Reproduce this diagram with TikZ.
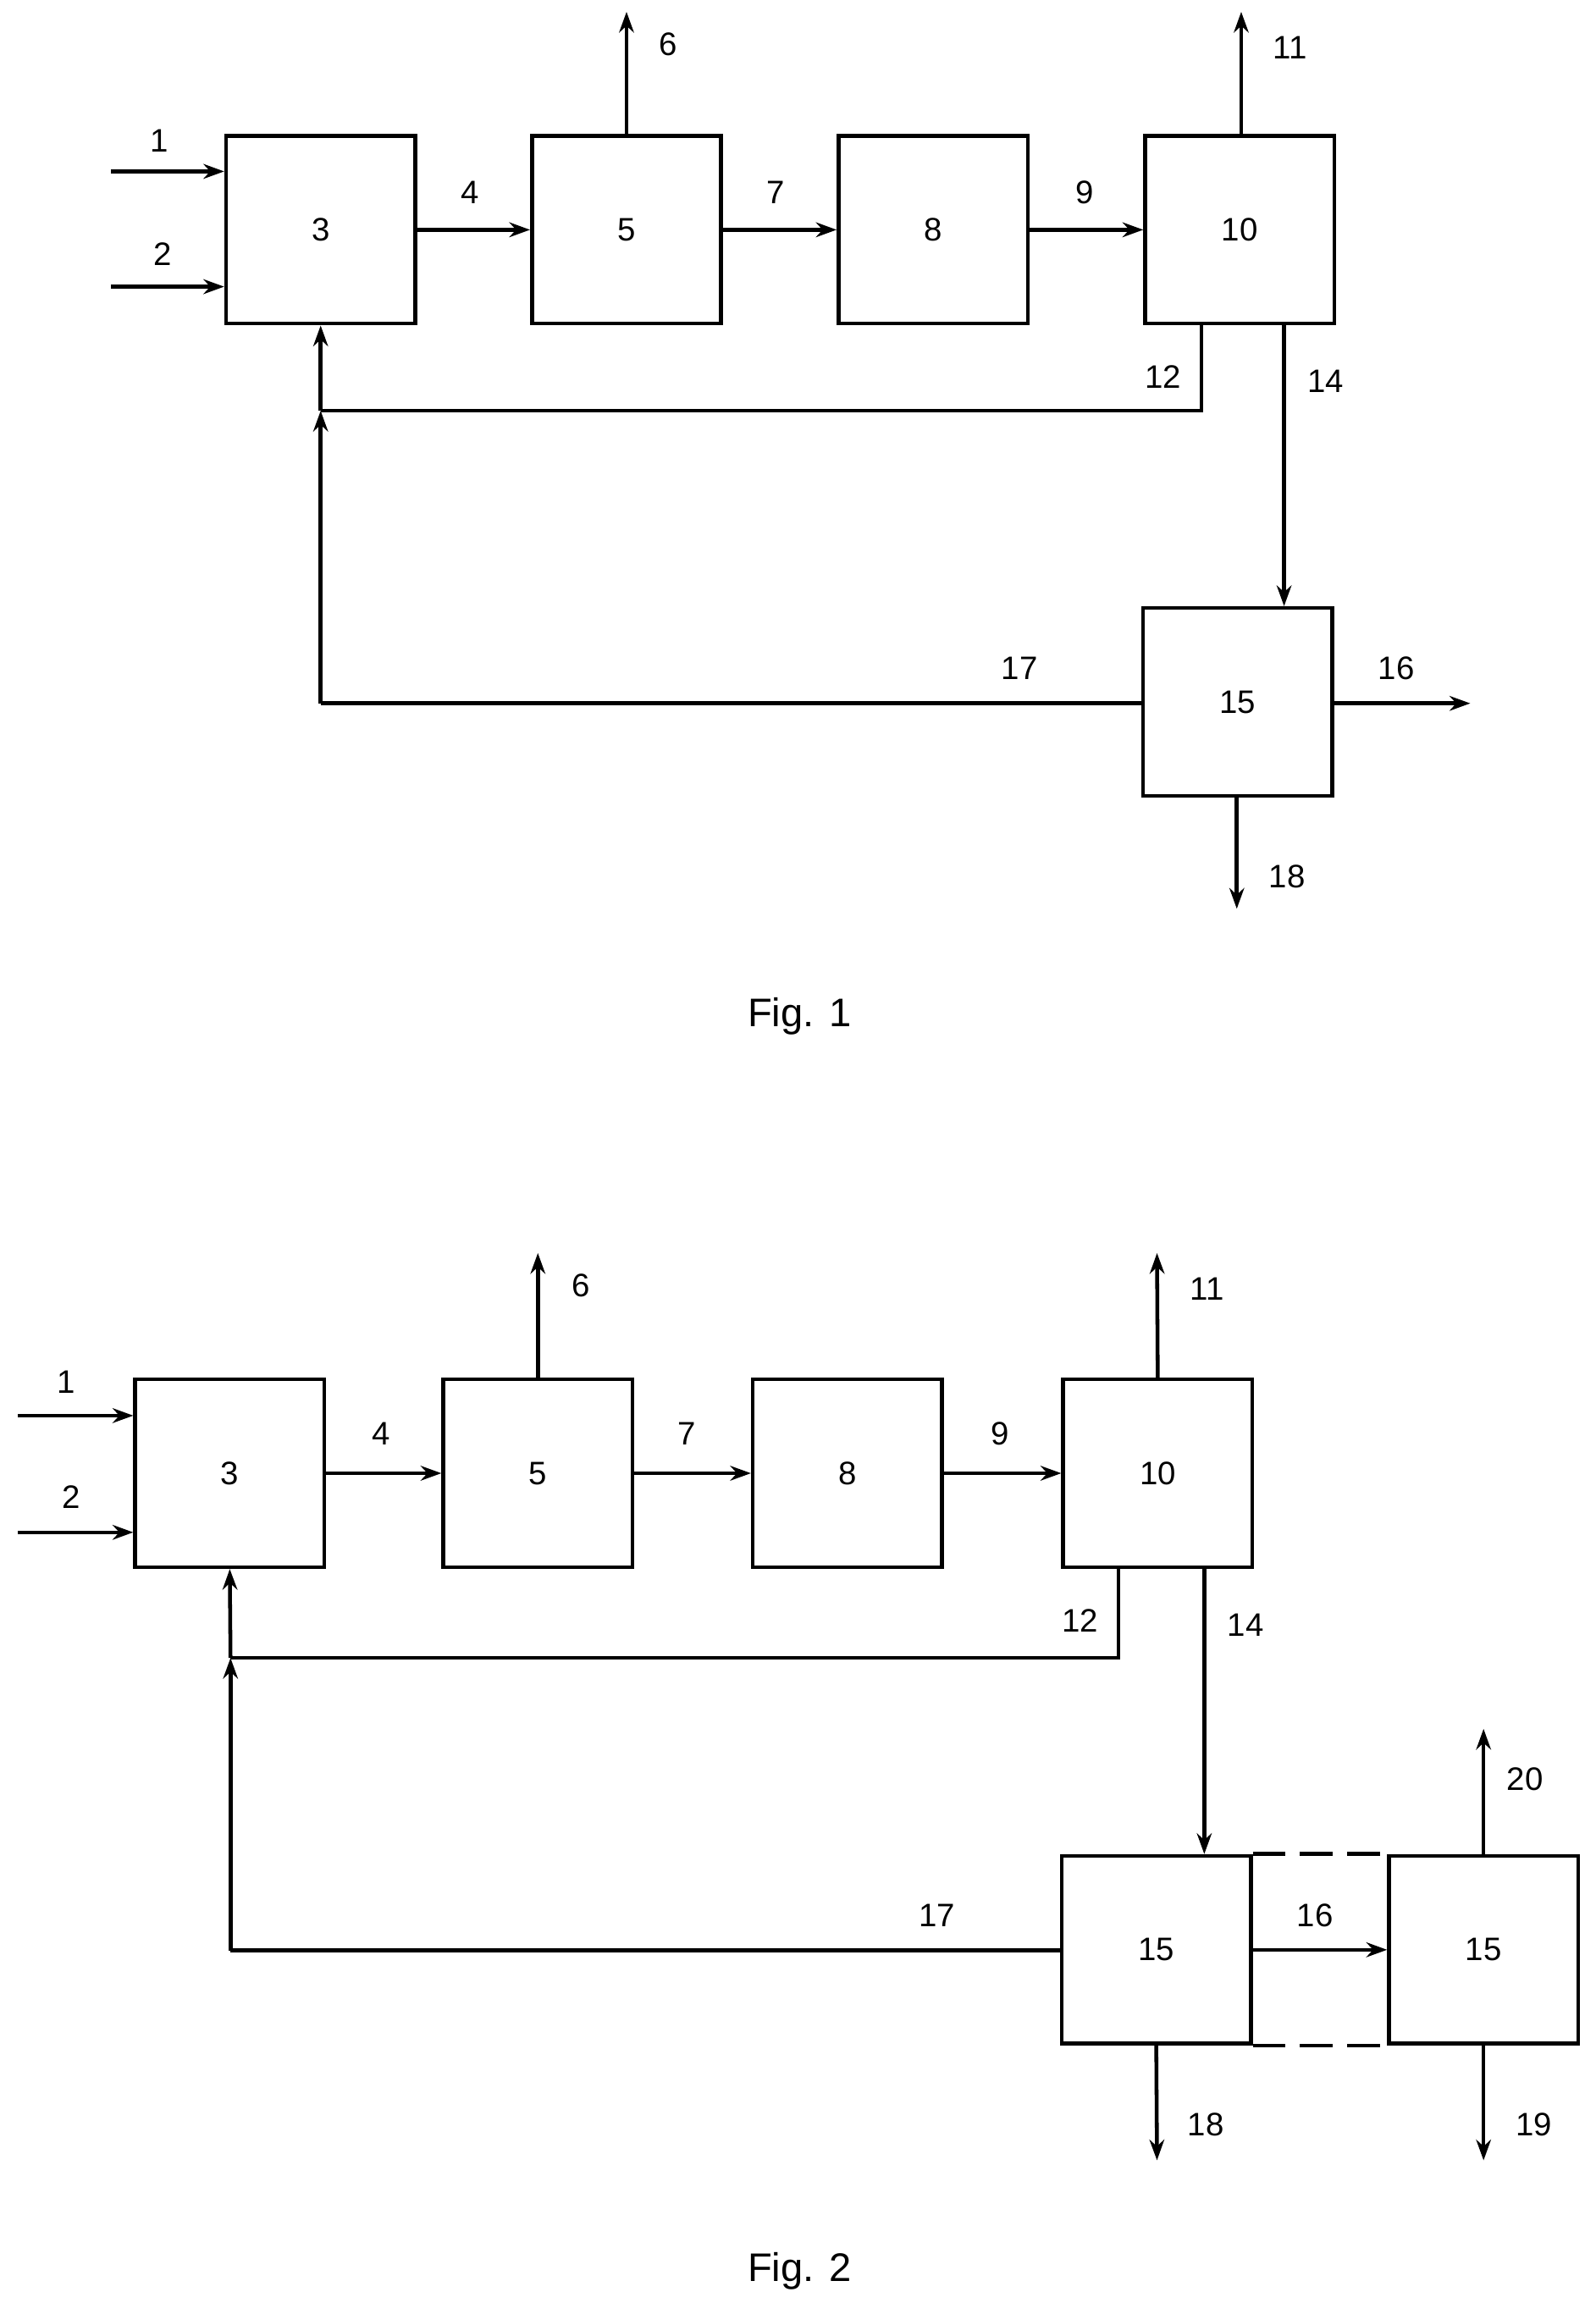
\documentclass[tikz,border=0pt]{standalone}
\usepackage{fontspec}
\setmainfont{Liberation Sans}
\usetikzlibrary{arrows.meta}
\begin{document}
\begin{tikzpicture}[x=1pt,y=-1pt,
  box/.style={draw,line width=2.6pt,minimum width=128pt,minimum height=127pt,inner sep=0pt,font=\fontsize{22}{24}\selectfont},
  ln/.style={line width=2.6pt},
  ar/.style={ln,-{Stealth[length=14pt,width=10pt]}},
  lab/.style={font=\fontsize{22}{24}\selectfont}]
\useasboundingbox (0,0) rectangle (1080,1566);
% Fig 1
\node[box] (a3) at (217,155.5) {3};
\node[box] (a5) at (424,155.5) {5};
\node[box] (a8) at (631.5,155.5) {8};
\node[box] (a10) at (839,155.5) {10};
\node[box] (a15) at (837.5,475) {15};
\coordinate (a1s) at (75,116); \coordinate (a2s) at (75,194);
\draw[ar] (a1s) -- (a1s -| a3.west);
\draw[ar] (a2s) -- (a2s -| a3.west);
\draw[ar] (a3.east) -- (a5.west);
\draw[ar] (a5.east) -- (a8.west);
\draw[ar] (a8.east) -- (a10.west);
\coordinate (a6e) at (424,8); \draw[ar] (a5.north) -- (a6e);
\coordinate (a11e) at (840,8); \draw[ar] (a10.north -| a11e) -- (a11e);
\coordinate (a12c) at (813,278); \coordinate (a12j) at (217,278);
\draw[ln] (a10.south -| a12c) -- (a12c) -- (a12j);
\draw[ar] (a12j) -- (a3.south);
\coordinate (a14x) at (869,0);
\draw[ar] (a10.south -| a14x) -- (a15.north -| a14x);
\coordinate (a17c) at (217,476);
\draw[ln] (a15.west |- a17c) -- (a17c);
\draw[ar] (a17c) -- (a12j);
\coordinate (a16e) at (995,476); \draw[ar] (a15.east |- a16e) -- (a16e);
\coordinate (a18e) at (837,615); \draw[ar] (a15.south -| a18e) -- (a18e);
\node[lab] at (108,95) {1}; \node[lab] at (110,172) {2};
\node[lab] at (318,130) {4}; \node[lab] at (452,30) {6};
\node[lab] at (525,130) {7}; \node[lab] at (734,130) {9};
\node[lab] at (873,32) {11}; \node[lab] at (787,255) {12};
\node[lab] at (897,258) {14}; \node[lab] at (690,452) {17};
\node[lab] at (945,452) {16}; \node[lab] at (871,593) {18};
\node[font=\fontsize{27}{30}\selectfont] at (541,688) {Fig. 1};
% Fig 2
\node[box] (b3) at (155.5,997) {3};
\node[box] (b5) at (364,997) {5};
\node[box] (b8) at (573.5,997) {8};
\node[box] (b10) at (783.5,997) {10};
\node[box] (b15) at (782.5,1319.5) {15};
\node[box] (c15) at (1004,1319.5) {15};
\coordinate (b1s) at (12,958); \coordinate (b2s) at (12,1037);
\draw[ar] (b1s) -- (b1s -| b3.west);
\draw[ar] (b2s) -- (b2s -| b3.west);
\draw[ar] (b3.east) -- (b5.west);
\draw[ar] (b5.east) -- (b8.west);
\draw[ar] (b8.east) -- (b10.west);
\coordinate (b6e) at (364,848); \draw[ar] (b5.north) -- (b6e);
\coordinate (b11e) at (783,848); \draw[ar] (b10.north) -- (b11e);
\coordinate (b12c) at (757,1122); \coordinate (b12j) at (156,1122);
\draw[ln] (b10.south -| b12c) -- (b12c) -- (b12j);
\draw[ar] (b12j) -- (b3.south);
\coordinate (b14x) at (815,0);
\draw[ar] (b10.south -| b14x) -- (b15.north -| b14x);
\coordinate (b17c) at (156,1320);
\draw[ln] (b15.west |- b17c) -- (b17c);
\draw[ar] (b17c) -- (b12j);
\draw[ar] (b15.east) -- (c15.west);
\draw[ln,dashed,dash pattern=on 22pt off 10pt] (b15.north east) -- (c15.north west);
\draw[ln,dashed,dash pattern=on 22pt off 10pt] (b15.south east) -- (c15.south west);
\coordinate (b18e) at (783,1462); \draw[ar] (b15.south) -- (b18e);
\coordinate (b19e) at (1004,1462); \draw[ar] (c15.south) -- (b19e);
\coordinate (b20e) at (1004,1170); \draw[ar] (c15.north) -- (b20e);
\node[lab] at (45,935) {1}; \node[lab] at (48,1013) {2};
\node[lab] at (258,970) {4}; \node[lab] at (393,870) {6};
\node[lab] at (465,970) {7}; \node[lab] at (677,970) {9};
\node[lab] at (817,872) {11}; \node[lab] at (731,1097) {12};
\node[lab] at (843,1100) {14}; \node[lab] at (634,1296) {17};
\node[lab] at (890,1296) {16}; \node[lab] at (816,1438) {18};
\node[lab] at (1038,1438) {19}; \node[lab] at (1032,1204) {20};
\node[font=\fontsize{27}{30}\selectfont] at (541,1537) {Fig. 2};
\end{tikzpicture}
\end{document}
